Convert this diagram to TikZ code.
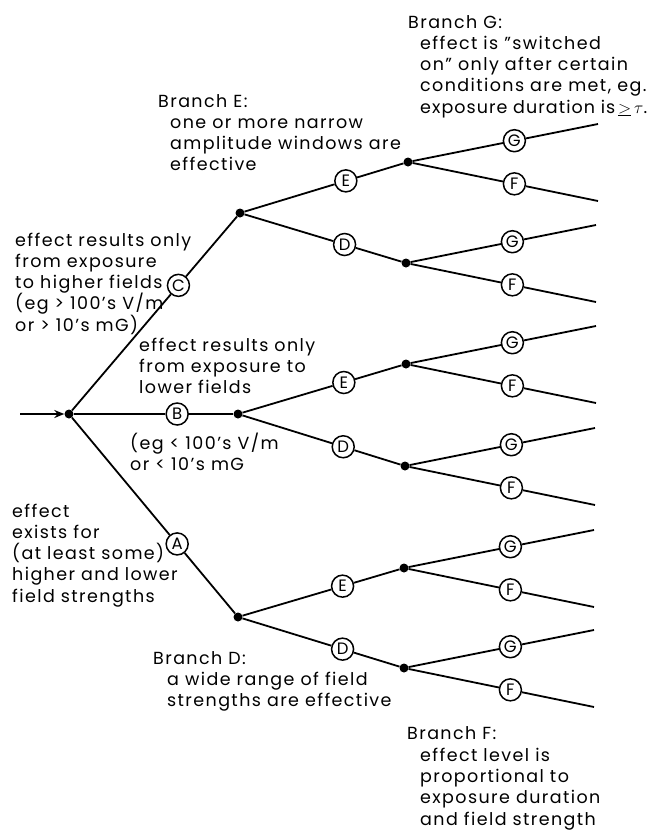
\documentclass[tikz,border=0pt]{standalone}
\usepackage{fontspec}
\setmainfont{Poppins}[LetterSpace=8]
\usetikzlibrary{arrows.meta,calc}
\newcommand{\sq}{\char"27\relax}
\newcommand{\dq}{\char"22\relax}
\begin{document}
\begin{tikzpicture}[x=1pt,y=-1pt,
  br/.style={line width=1.8pt},
  dot/.style={circle,fill=black,inner sep=0pt,minimum size=9pt},
  lab/.style={circle,draw,line width=1.5pt,inner sep=0pt,minimum size=22pt,font=\fontsize{16.5}{16.5}\selectfont},
  txt/.style={align=left,anchor=base west,inner sep=0pt,font=\fontsize{17.5}{21.3}\selectfont}]
\useasboundingbox (0,0) rectangle (652,831);
% level 0 and 1
\coordinate (start) at (20,414);
\node[dot] (r) at (69,414) {};
\node[dot] (h) at (240,213) {};
\node[dot] (m) at (238,414) {};
\node[dot] (l) at (238,617) {};
\node[lab] (C) at ($(r)!0.64!(h)$) {C};
\node[lab] (B) at ($(r)!0.64!(m)$) {B};
\node[lab] (A) at ($(r)!0.64!(l)$) {A};
\draw[br,-{Stealth[length=10pt,width=8pt]}] (start) -- (r);
\draw[br] (r) -- (C) -- (h);
\draw[br] (r) -- (B) -- (m);
\draw[br] (r) -- (A) -- (l);
% level 2
\node[dot] (hE) at (408,162) {};
\node[dot] (hD) at (406,263) {};
\node[dot] (mE) at (406,364) {};
\node[dot] (mD) at (405,466) {};
\node[dot] (lE) at (404,568) {};
\node[dot] (lD) at (404,668) {};
\foreach \p/\d/\t in {h/hE/E,h/hD/D,m/mE/E,m/mD/D,l/lE/E,l/lD/D} {
  \node[lab] (\d-c) at ($(\p)!0.63!(\d)$) {\t};
  \draw[br] (\p) -- (\d-c) -- (\d);
}
% level 3
\foreach \d in {hE,hD,mE,mD,lE,lD} {
  \coordinate (\d-ge) at ($(\d)+(190,-38)$);
  \coordinate (\d-fe) at ($(\d)+(190,39)$);
  \node[lab] (\d-G) at ($(\d)!0.56!(\d-ge)$) {G};
  \node[lab] (\d-F) at ($(\d)!0.56!(\d-fe)$) {F};
  \draw[br] (\d) -- (\d-G) -- (\d-ge);
  \draw[br] (\d) -- (\d-F) -- (\d-fe);
}
% texts (anchor = baseline of the last line)
\node[txt] (tG) at (408,113.2) {Branch G:\\\hspace*{12pt}effect is \dq switched\\\hspace*{12pt}on\dq{} only after certain\\\hspace*{12pt}conditions are met, eg.\\\hspace*{12pt}{\addfontfeatures{LetterSpace=6}exposure duration is\,$\underline{>}\,\tau$.}};
\node[txt] (tE) at (158,170.9) {Branch E:\\\hspace*{12pt}one or more narrow\\\hspace*{12pt}amplitude windows are\\\hspace*{12pt}effective};
\node[txt] (tC) at (15,331.2) {effect results only\\from exposure\\to higher fields\\(eg > 100\sq s V/m\\or > 10\sq s mG)};
\node[txt] (tB1) at (139,393.6) {effect results only\\from exposure to\\lower fields};
\node[txt] (tB2) at (130,470.3) {(eg < 100\sq s V/m\\or < 10\sq s mG};
\node[txt] (tA) at (12,602.2) {effect\\exists for\\(at least some)\\higher and lower\\field strengths};
\node[txt] (tD) at (153,706.6) {Branch D:\\\hspace*{14pt}a wide range of field\\\hspace*{14pt}strengths are effective};
\node[txt] (tF) at (407,825) {Branch F:\\\hspace*{13pt}effect level is\\\hspace*{13pt}proportional to\\\hspace*{13pt}exposure duration\\\hspace*{13pt}and field strength};
\end{tikzpicture}
\end{document}
